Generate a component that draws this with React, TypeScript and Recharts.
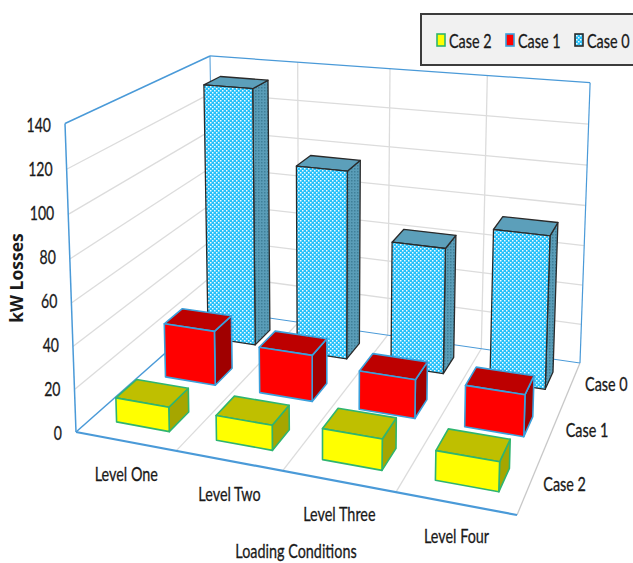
import React from 'react';
import { BarChart, Bar, XAxis, YAxis, Legend } from 'recharts';

const levels = ['Level One', 'Level Two', 'Level Three', 'Level Four'];
const caseNames = ['Case 0', 'Case 1', 'Case 2'];
const case0 = [133, 96, 63, 75];
const case1 = [27, 22.5, 18.5, 19.5];
const case2 = [11.5, 11.5, 14, 13];
const valueTicks = [0, 20, 40, 60, 80, 100, 120, 140];

const chartData = levels.map((level, i) => ({
  level,
  'Case 0': case0[i],
  'Case 1': case1[i],
  'Case 2': case2[i],
}));

// plot rectangle = front wall of the box before it is projected
const PLOT = { left: 76, top: 124, width: 441, height: 308 };
const LABEL_FONT = 'Lato, sans-serif';
const SQUEEZE = 0.72;
const INK = '#1a1a1a';
const AXIS_BLUE = '#4a9ad8';
const GRID = '#dcdcdc';

// camera: u along the categories, v into the depth, h up (all 0..1)
const project = (u: number, v: number, h: number): [number, number] => {
  const w = -0.1188 * u + 0.2254 * v - 0.0423 * h + 1;
  return [
    (379.6 * u + 186.2 * v - 13.75 * h + 76) / w,
    (21.8 * u - 52.1 * v - 313.7 * h + 432) / w,
  ];
};

const poly = (pts: [number, number][]) =>
  pts.map(p => `${p[0].toFixed(1)},${p[1].toFixed(1)}`).join(' ');

const Edge = ({ from, to, color, width = 1 }: any) => {
  const a = project(from[0], from[1], from[2]);
  const b = project(to[0], to[1], to[2]);
  return <line x1={a[0]} y1={a[1]} x2={b[0]} y2={b[1]} stroke={color} strokeWidth={width} />;
};

// narrow labels, the font is squeezed horizontally around its anchor
const NarrowText = ({ x, y, anchor = 'middle', size = 20, children }: any) => (
  <text
    transform={`translate(${x} ${y}) scale(${SQUEEZE} 1)`}
    textAnchor={anchor}
    fontFamily={LABEL_FONT}
    fontSize={size}
    fill={INK}
    stroke={INK}
    strokeWidth={0.3}
  >
    {children}
  </text>
);

const Walls = () => (
  <g>
    {valueTicks.slice(1, -1).map(t => (
      <g key={t}>
        <Edge from={[0, 0, t / 140]} to={[0, 1, t / 140]} color={GRID} width={1.3} />
        <Edge from={[0, 1, t / 140]} to={[1, 1, t / 140]} color={GRID} width={1.3} />
      </g>
    ))}
    {[0.25, 0.5, 0.75].map(u => (
      <g key={u}>
        <Edge from={[u, 0, 0]} to={[u, 1, 0]} color={GRID} width={1.3} />
        <Edge from={[u, 1, 0]} to={[u, 1, 1]} color={GRID} width={1.3} />
      </g>
    ))}
    <Edge from={[1, 0, 0]} to={[1, 1, 0]} color="#c8c8c8" width={1.3} />
    <Edge from={[0, 0, 0]} to={[0, 0, 1]} color={AXIS_BLUE} width={1.5} />
    <Edge from={[0, 0, 1]} to={[0, 1, 1]} color={AXIS_BLUE} width={1.5} />
    <Edge from={[0, 1, 1]} to={[1, 1, 1]} color={AXIS_BLUE} width={1.2} />
    <Edge from={[1, 1, 1]} to={[1, 1, 0]} color={AXIS_BLUE} width={1.2} />
    <Edge from={[0, 1, 0]} to={[0, 1, 1]} color={AXIS_BLUE} width={1} />
    <Edge from={[0, 1, 0]} to={[1, 1, 0]} color={AXIS_BLUE} width={1} />
    <Edge from={[0, 0, 0]} to={[0, 1, 0]} color={AXIS_BLUE} width={1.5} />
    <Edge from={[0, 0, 0]} to={[1, 0, 0]} color={AXIS_BLUE} width={2.2} />
  </g>
);

// each case occupies one depth slot; the box fills about 40% of it
const depthSlot = (name: string): [number, number] => {
  const slot = caseNames.length - 1 - caseNames.indexOf(name);
  const centre = (slot + 0.5) / caseNames.length;
  return [centre - 0.0675, centre + 0.0675];
};

const boxShape = (name: string, look: any) => (props: any) => {
  const { x, width, height } = props;
  const [v0, v1] = depthSlot(name);
  // boxes sit a touch right of the band centre
  const u0 = (x - PLOT.left) / PLOT.width + 0.004;
  const u1 = (x + width - PLOT.left) / PLOT.width + 0.004;
  const h = height / PLOT.height;
  const edge = { stroke: look.stroke, strokeWidth: look.edgeWidth, strokeLinejoin: 'round' as const };
  return (
    <g>
      <polygon
        points={poly([project(u1, v0, 0), project(u1, v1, 0), project(u1, v1, h), project(u1, v0, h)])}
        fill={look.side}
        {...edge}
      />
      <polygon
        points={poly([project(u0, v0, h), project(u1, v0, h), project(u1, v1, h), project(u0, v1, h)])}
        fill={look.top}
        {...edge}
      />
      <polygon
        points={poly([project(u0, v0, 0), project(u1, v0, 0), project(u1, v0, h), project(u0, v0, h)])}
        fill={look.front}
        {...edge}
      />
    </g>
  );
};

const looks: Record<string, any> = {
  'Case 0': { front: 'url(#checkFront)', side: 'url(#hatchSide)', top: '#5c9fba', stroke: '#2a2a2a', edgeWidth: 1.3 },
  'Case 1': { front: '#ff0000', side: '#a00000', top: '#bd0000', stroke: '#3aa0dc', edgeWidth: 1.6 },
  'Case 2': { front: '#ffff00', side: '#a6a600', top: '#bfbf00', stroke: '#2fb56f', edgeWidth: 1.6 },
};

const ValueTick = ({ y, payload }: any) => {
  const [ax] = project(0, 0, payload.value / 140);
  return (
    <NarrowText x={ax - 14} y={y + 8} anchor="end" size={19.5}>
      {payload.value}
    </NarrowText>
  );
};

const LevelTick = ({ x, payload }: any) => {
  const [px, py] = project((x - PLOT.left) / PLOT.width, 0, 0);
  return (
    <NarrowText x={px + 1} y={py + 40}>
      {payload.value}
    </NarrowText>
  );
};

const CaseLabels = () => (
  <g>
    {caseNames.map(name => {
      const [v0, v1] = depthSlot(name);
      const [px, py] = project(1, (v0 + v1) / 2, 0);
      return (
        <NarrowText key={name} x={px + 35} y={py + 7}>
          {name}
        </NarrowText>
      );
    })}
  </g>
);

const LegendBox = ({ payload }: any) => (
  <div
    style={{
      boxSizing: 'border-box',
      width: 230,
      height: 53,
      background: '#f1f1f1',
      border: '2px solid #3c3c3c',
      display: 'flex',
      alignItems: 'center',
      paddingLeft: 14,
      fontFamily: LABEL_FONT,
      fontSize: 20,
      color: INK,
    }}
  >
    {[...(payload || [])].reverse().map((item: any) => (
      <span key={item.value} style={{ display: 'flex', alignItems: 'center', width: 69, whiteSpace: 'nowrap' }}>
        <svg width={10} height={14} style={{ marginRight: 3, flex: 'none' }}>
          <rect
            x={1}
            y={1}
            width={8}
            height={12}
            fill={looks[item.value].front}
            stroke={looks[item.value].stroke}
            strokeWidth={1.6}
          />
        </svg>
        <span
          style={{
            display: 'inline-block',
            transform: `scaleX(${SQUEEZE})`,
            transformOrigin: 'left center',
            WebkitTextStroke: `0.3px ${INK}`,
          }}
        >
          {item.value}
        </span>
      </span>
    ))}
  </div>
);

export default function App() {
  return (
    <div style={{ position: 'absolute', left: 0, top: 0, width: 633, height: 563, overflow: 'hidden' }}>
      <BarChart
        width={633}
        height={563}
        data={chartData}
        margin={{
          left: PLOT.left - 1,
          top: PLOT.top,
          right: 633 - PLOT.left - PLOT.width,
          bottom: 563 - PLOT.top - PLOT.height - 1,
        }}
        barSize={59}
        barGap={-59}
      >
        <defs>
          <pattern id="checkFront" width={4} height={4} patternUnits="userSpaceOnUse">
            <rect width={4} height={4} fill="#25c0fa" />
            <rect width={1.5} height={1.5} fill="#f0fbff" />
            <rect x={2} y={2} width={1.5} height={1.5} fill="#f0fbff" />
          </pattern>
          <pattern id="hatchSide" width={3} height={3} patternUnits="userSpaceOnUse">
            <rect width={3} height={3} fill="#5a9db8" />
            <rect width={1.5} height={1.5} fill="#3f7f98" />
          </pattern>
        </defs>
        <Walls />
        <XAxis dataKey="level" height={1} axisLine={false} tickLine={false} interval={0} tick={<LevelTick />} />
        <YAxis
          width={1}
          domain={[0, 140]}
          ticks={valueTicks}
          axisLine={false}
          tickLine={false}
          interval={0}
          tick={<ValueTick />}
        />
        <Bar dataKey="Case 0" isAnimationActive={false} fill="#25c0fa" shape={boxShape('Case 0', looks['Case 0'])} />
        <Bar dataKey="Case 1" isAnimationActive={false} fill="#ff0000" shape={boxShape('Case 1', looks['Case 1'])} />
        <Bar dataKey="Case 2" isAnimationActive={false} fill="#ffff00" shape={boxShape('Case 2', looks['Case 2'])} />
        <CaseLabels />
        <NarrowText x={296} y={558}>
          Loading Conditions
        </NarrowText>
        <text
          x={23}
          y={278}
          textAnchor="middle"
          transform="rotate(-90 23 278)"
          fontFamily='"Open Sans", sans-serif'
          fontWeight={700}
          fontSize={17.5}
          fill={INK}
        >
          kW Losses
        </text>
        <Legend
          layout="horizontal"
          verticalAlign="middle"
          align="center"
          wrapperStyle={{ left: 420, top: 13, width: 230, height: 53 }}
          content={<LegendBox />}
        />
      </BarChart>
    </div>
  );
}
